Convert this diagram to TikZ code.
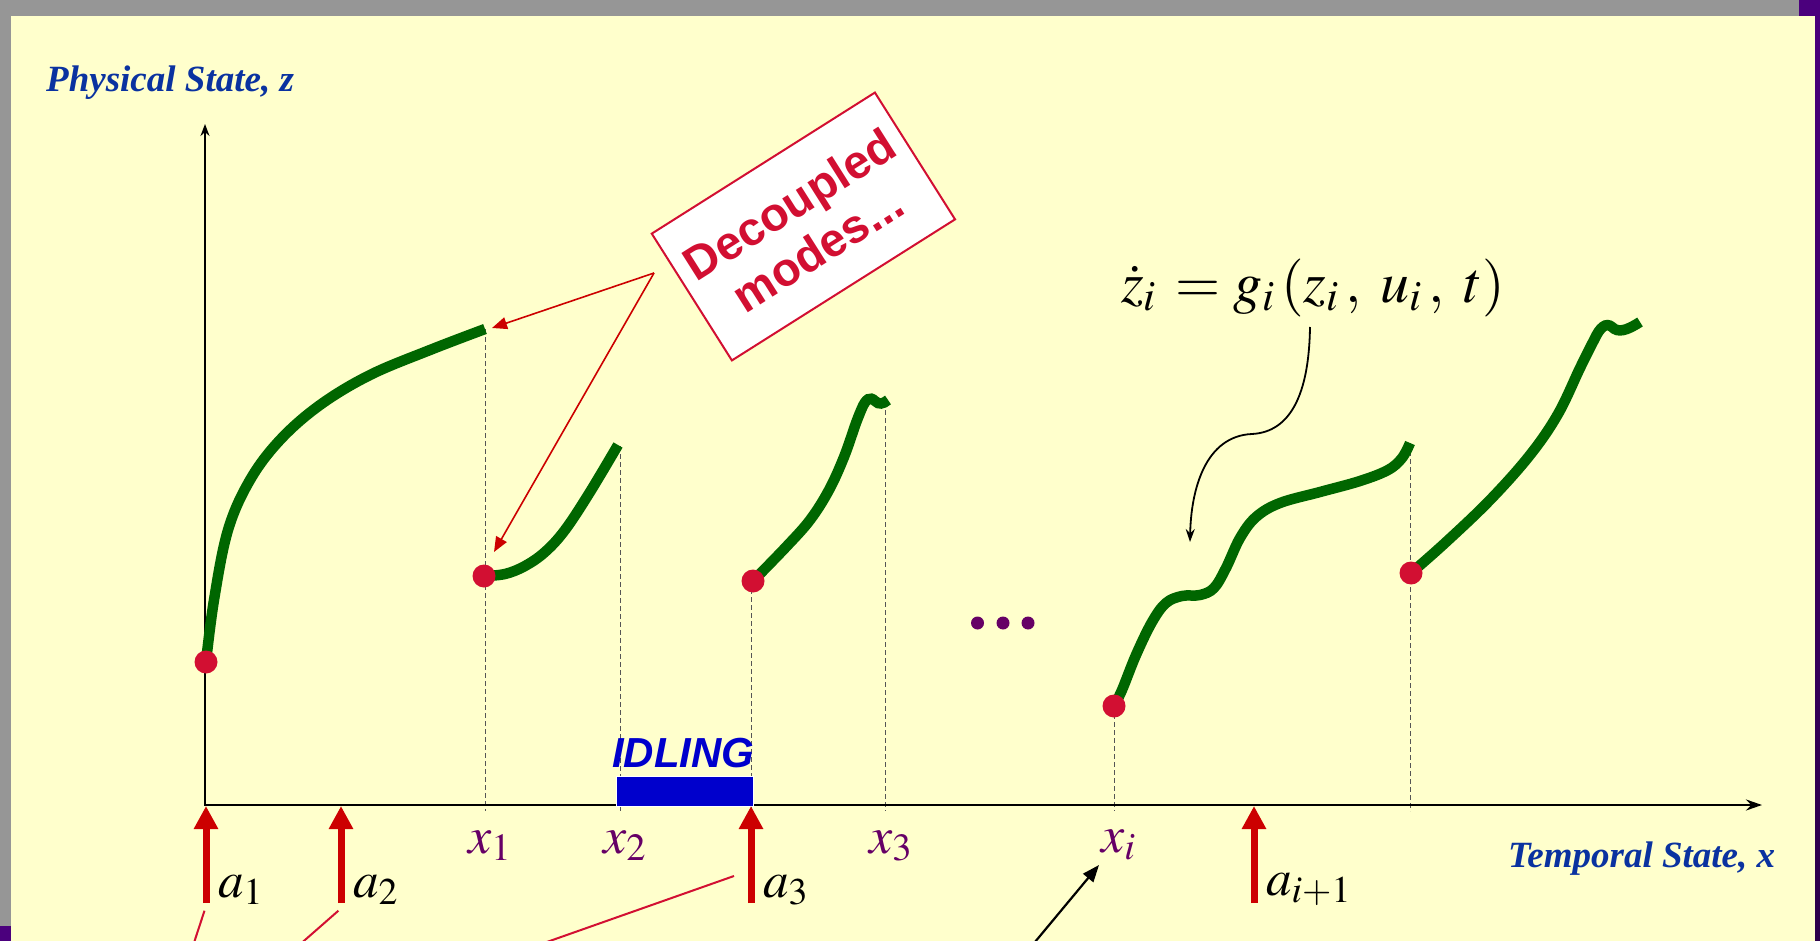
\documentclass[tikz,border=0pt]{standalone}
\usepackage{mathptmx}
\usepackage{fontspec}
\setmainfont{Liberation Serif}
\newfontfamily\arialfont{Liberation Sans}
\usetikzlibrary{arrows.meta}
\definecolor{bgyellow}{RGB}{255,255,204}
\definecolor{bandgrey}{RGB}{150,150,150}
\definecolor{edgepurple}{RGB}{75,0,125}
\definecolor{edgepurpledark}{RGB}{45,0,75}
\definecolor{labelblue}{RGB}{10,50,160}
\definecolor{xpurple}{RGB}{102,0,102}
\definecolor{arrowred}{RGB}{204,0,0}
\definecolor{crimsonred}{RGB}{210,15,50}
\definecolor{curvegreen}{RGB}{0,102,0}
\definecolor{idleblue}{RGB}{0,0,204}
\definecolor{dashgrey}{RGB}{85,85,85}
\tikzset{
  axislabel/.style={font=\fontsize{37}{40}\selectfont\bfseries\itshape, text=labelblue, inner sep=0pt, anchor=base west},
  xlab/.style={font=\fontsize{52}{52}\selectfont, text=xpurple, inner sep=0pt, anchor=base west},
  alab/.style={font=\fontsize{51}{51}\selectfont, text=black, inner sep=0pt, anchor=base west},
  eqlab/.style={font=\fontsize{58}{60}\selectfont, text=black, inner sep=0pt, anchor=base west},
  curve/.style={draw=curvegreen, line width=10.5pt, line cap=butt},
  dotnode/.style={circle, fill=crimsonred, minimum size=23pt, inner sep=0pt},
  guide/.style={draw=dashgrey, line width=1pt, dash pattern=on 5pt off 3pt},
  attarrow/.style={draw=arrowred, line width=7pt, -{Triangle[length=23pt,width=23pt]}},
  calloutarrow/.style={draw=arrowred, line width=1.6pt, -{Triangle[length=15pt,width=12pt]}},
  callline/.style={draw=crimsonred, line width=2pt},
  blackarrow/.style={draw=black, line width=1.8pt, -{Stealth[length=13pt,width=9pt]}},
  ellipsisdot/.style={circle, fill=xpurple, minimum size=13pt, inner sep=0pt},
}
\begin{document}
\begin{tikzpicture}[x=1pt,y=-1pt]
\path[use as bounding box] (0,0) rectangle (1820,941);
\clip (0,0) rectangle (1820,941);
% frame
\fill[bandgrey] (0,0) rectangle (1820,941);
\fill[edgepurple] (1799,0) rectangle (1820,16);
\shade[top color=edgepurple, bottom color=edgepurpledark] (1815,0) rectangle (1820,941);
\fill[edgepurple] (0,926) rectangle (11,941);
\fill[bgyellow] (11,16) rectangle (1815,941);

% coordinates
\coordinate (O) at (205,805);
\coordinate (xend) at (1762,805);
\coordinate (yend) at (205,124);

% dashed guides
\draw[guide] (485,329) -- (485,811);
\draw[guide] (620,446) -- (620,811);
\draw[guide] (751,581) -- (751,811);
\draw[guide] (885,402) -- (885,811);
\draw[guide] (1114,706) -- (1114,811);
\draw[guide] (1410,443) -- (1410,811);

% axes
\draw[line width=1.8pt, -{Stealth[length=12pt,width=9pt]}] (O) -- (yend);
\draw[line width=2.6pt, -{Stealth[length=16pt,width=11pt]}] (204,805) -- (xend);

% curves
\draw[curve] plot[smooth, tension=0.6] coordinates {(206,662) (214,600) (228,530) (250,480) (280,440) (320,405) (370,375) (430,350) (485,329)};
\draw[curve] plot[smooth, tension=0.6] coordinates {(484,576) (505,574) (525,566) (545,552) (565,530) (590,492) (618,445)};
\draw[curve] plot[smooth, tension=0.6] coordinates {(753,581) (786,547) (810,520) (829,490) (844,457) (856,423) (862,408)}
  .. controls (866,399) and (870,396) .. (875,401) .. controls (879,405) and (883,404) .. (888,400);
\draw[curve] plot[smooth, tension=0.6] coordinates {(1114,706) (1122,690) (1136,655) (1152,622) (1166,603) (1182,596) (1200,595) (1214,588) (1226,568) (1240,538) (1256,517) (1280,503) (1320,492) (1360,481) (1388,470) (1402,458) (1410,443)};
\draw[curve] plot[smooth, tension=0.6] coordinates {(1411,573) (1445,543) (1490,500) (1530,455) (1558,414) (1580,368) (1594,340)}
  .. controls (1600,327) and (1606,322) .. (1612,327) .. controls (1618,333) and (1626,331) .. (1640,322);

% dots
\node[dotnode] (d1) at (206,662) {};
\node[dotnode] (d2) at (484,576) {};
\node[dotnode] (d3) at (753,581) {};
\node[dotnode] (d4) at (1114,706) {};
\node[dotnode] (d5) at (1411,573) {};

% ellipsis
\node[ellipsisdot] (e1) at (977.5,623) {};
\node[ellipsisdot] (e2) at (1003,623) {};
\node[ellipsisdot] (e3) at (1028,623) {};

% idling
\draw[fill=idleblue, draw=white, line width=1pt] (616,776) rectangle (753,806);
\node[font=\arialfont\fontsize{42}{44}\selectfont\bfseries\itshape, text=idleblue, inner sep=0pt, anchor=base west] (idle) at (612,767) {IDLING};

% event arrows
\draw[attarrow] (206,903) -- (206,806);
\draw[attarrow] (341,903) -- (341,806);
\draw[attarrow] (751,903) -- (751,806);
\draw[attarrow] (1254,903) -- (1254,806);

% labels
\node[axislabel] (ylab) at (46,92) {Physical State, z};
\node[axislabel] (xlabt) at (1508,867) {Temporal State, x};
\node[xlab] (x1) at (468,853) {$x_1$};
\node[xlab] (x2) at (603,853) {$x_2$};
\node[xlab] (x3) at (869,853) {$x_3$};
\node[xlab] (xi) at (1101,852) {$x_i$};
\node[alab] (a1) at (218,897) {$a_1$};
\node[alab] (a2) at (353,897) {$a_2$};
\node[alab] (a3) at (763,897) {$a_3$};
\node[alab] (ai) at (1266,895) {$a_{i+1}$};
\node[eqlab] (eq) at (1121,302) {$\dot{z}_i\,=g_i\,(z_i\,,\;u_i\,,\;t)$};

% callout
\node[rotate=32.3, draw=crimsonred, line width=2pt, fill=white, minimum width=264pt, minimum height=150pt,
      text=crimsonred, font=\arialfont\fontsize{47}{53}\selectfont\bfseries, align=center, inner sep=0pt] (callout) at (803.4,226.5) {Decoupled\\modes...};
\coordinate (cs) at (654,273);
\coordinate (t1) at (492,328);
\coordinate (t2) at (494,552);
\draw[calloutarrow] (cs) -- (t1);
\draw[calloutarrow] (cs) -- (t2);

% black arrows
\coordinate (eqfoot) at (1310,327);
\coordinate (c4mid) at (1190,542);
\draw[blackarrow] (eqfoot) .. controls (1309,395) and (1290,432) .. (1252,434) .. controls (1205,436) and (1191,490) .. (c4mid);
\coordinate (bk) at (1020,960);
\coordinate (xitip) at (1099,865);
\draw[line width=2.2pt, -{Triangle[length=17pt,width=13pt]}] (bk) -- (xitip);

% red lines at bottom
\coordinate (r1s) at (188,961);
\coordinate (r1e) at (204.5,910.7);
\coordinate (r2s) at (281,961);
\coordinate (r2e) at (338.4,910.7);
\coordinate (r3s) at (493,961);
\coordinate (r3e) at (734,876);
\draw[callline] (r1s) -- (r1e);
\draw[callline] (r2s) -- (r2e);
\draw[callline] (r3s) -- (r3e);
\end{tikzpicture}
\end{document}
